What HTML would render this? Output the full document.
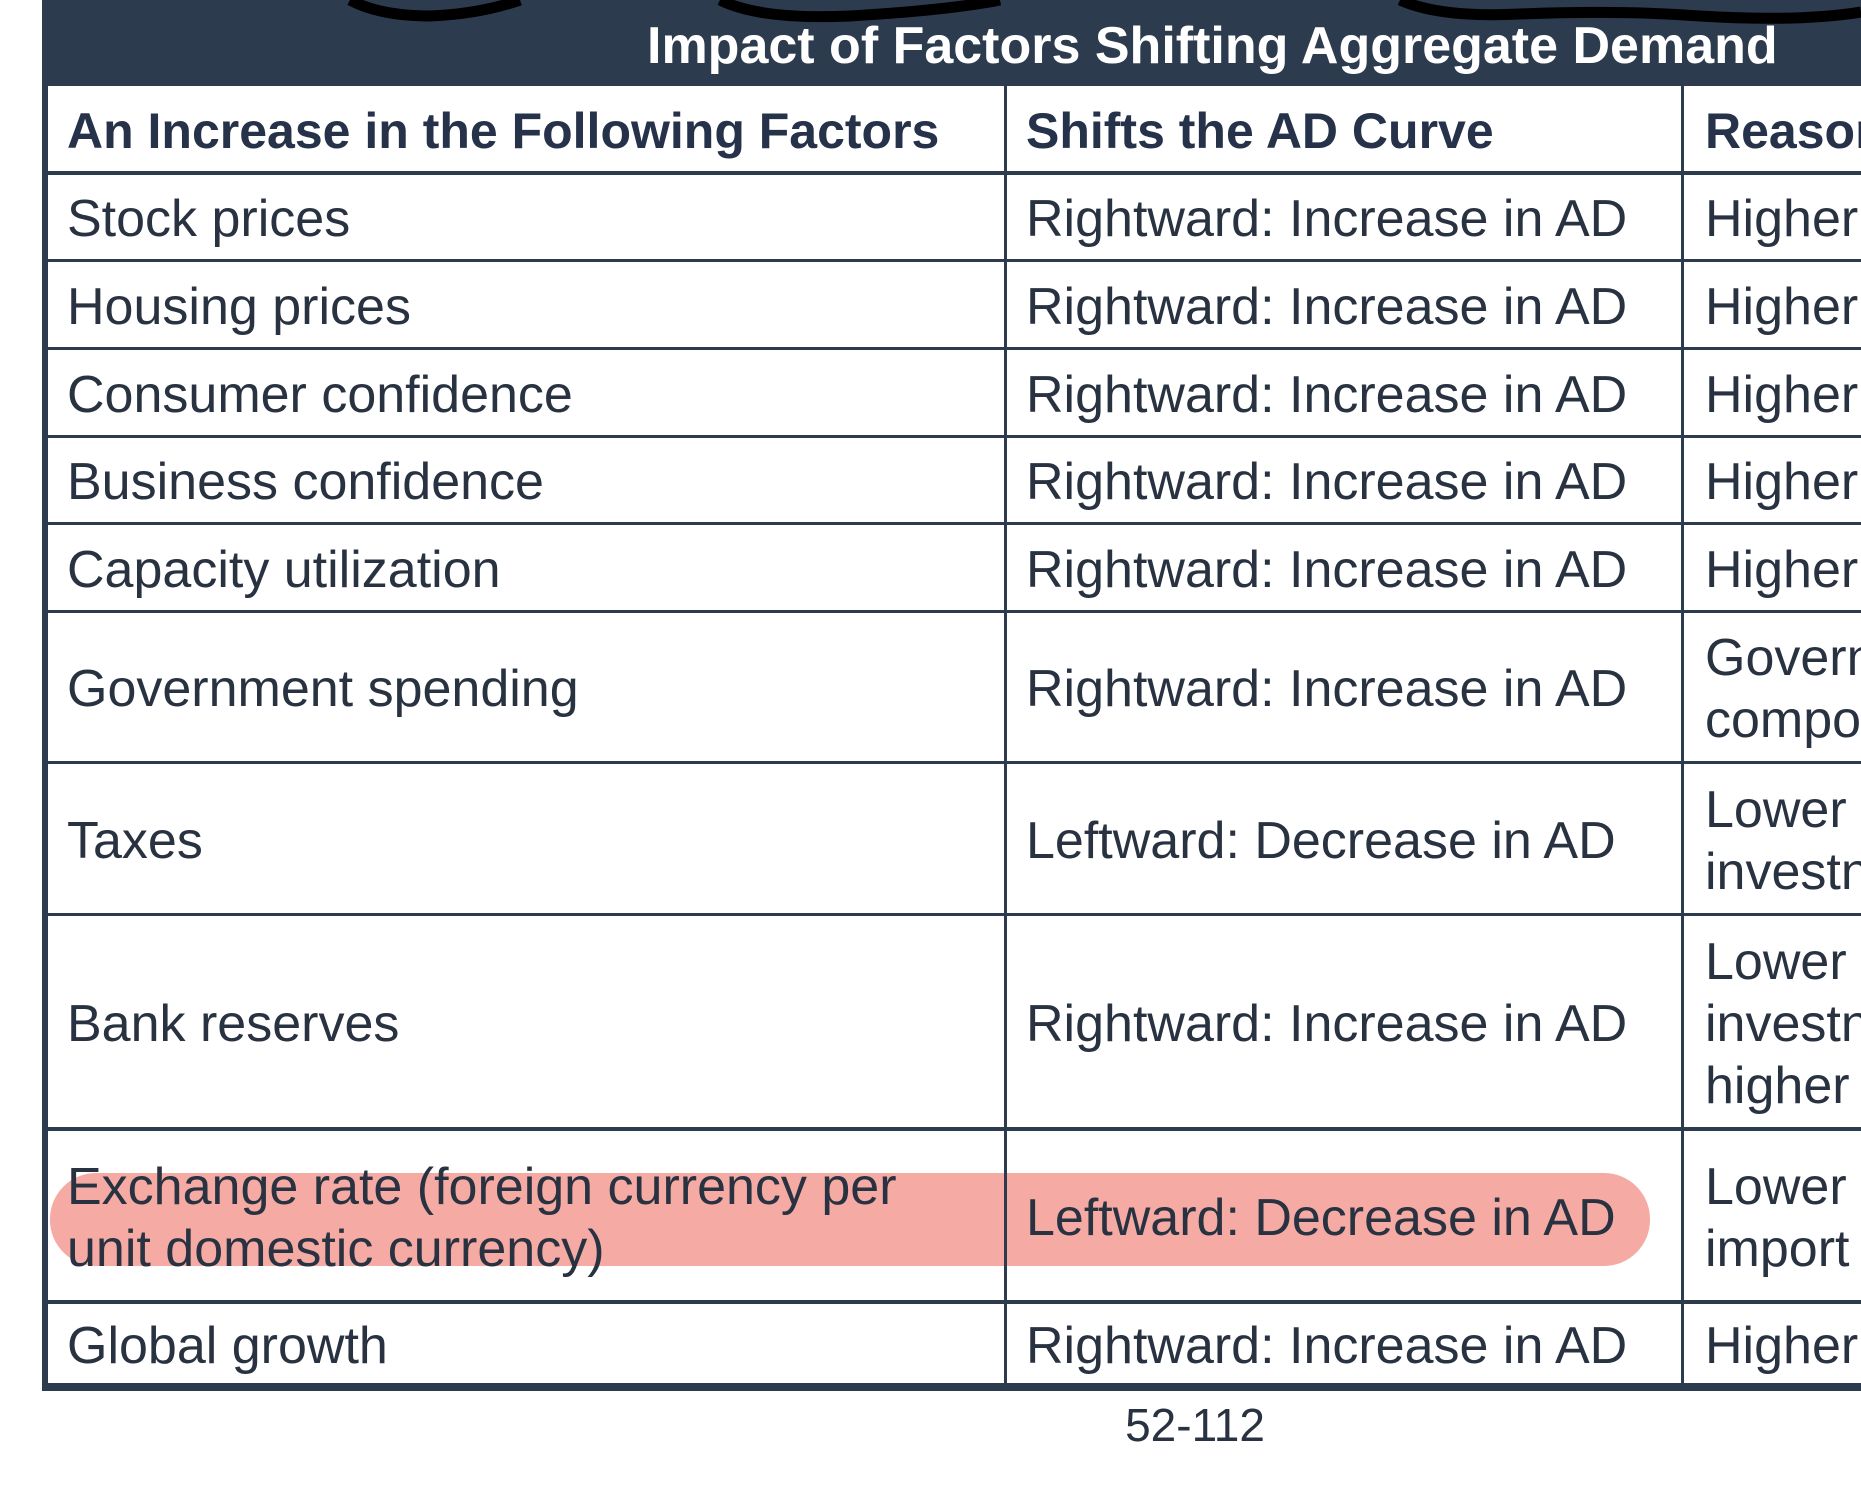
<!DOCTYPE html>
<html><head><meta charset="utf-8"><style>
html,body{margin:0;padding:0;background:#fff;}
body{width:1861px;height:1486px;position:relative;overflow:hidden;font-family:"Liberation Sans","DejaVu Sans",sans-serif;color:#283240;}
.band{position:absolute;left:42px;top:0;width:1819px;height:86px;background:#2d3b4f;}
.title{position:absolute;left:647px;width:1000px;text-align:center;top:16px;font-weight:bold;font-size:52px;color:#fff;white-space:nowrap;}
.hl{position:absolute;background:#2d3b4f;}
.t{position:absolute;font-size:52px;white-space:nowrap;line-height:62px;display:flex;align-items:center;}
.h{font-weight:bold;font-size:50px;color:#26324a;}
.pink{position:absolute;left:50px;top:1173px;width:1600px;height:93px;background:#f5aaa4;border-radius:46px;}
</style></head><body>
<div class="band"></div>
<div class="title">Impact of Factors Shifting Aggregate Demand</div>
<svg style="position:absolute;left:0;top:0" width="1861" height="30">
<path d="M350,0 Q380,16 430,16 Q480,14 520,0 M720,0 Q760,20 850,16 Q950,10 1000,0 M1400,0 Q1440,18 1520,14 Q1620,10 1700,16 Q1800,22 1861,12" stroke="#000" stroke-width="11" fill="none"/>
</svg>
<div class="pink"></div>
<div class="hl" style="left:42px;top:84px;width:6px;height:1306px"></div>
<div class="hl" style="left:1004px;top:84px;width:3px;height:1306px"></div>
<div class="hl" style="left:1681px;top:84px;width:3px;height:1306px"></div>
<div class="hl" style="left:42px;top:171px;width:1819px;height:4px"></div>
<div class="hl" style="left:42px;top:259px;width:1819px;height:3px"></div>
<div class="hl" style="left:42px;top:347px;width:1819px;height:3px"></div>
<div class="hl" style="left:42px;top:435px;width:1819px;height:3px"></div>
<div class="hl" style="left:42px;top:522px;width:1819px;height:3px"></div>
<div class="hl" style="left:42px;top:610px;width:1819px;height:3px"></div>
<div class="hl" style="left:42px;top:761px;width:1819px;height:3px"></div>
<div class="hl" style="left:42px;top:913px;width:1819px;height:3px"></div>
<div class="hl" style="left:42px;top:1127px;width:1819px;height:4px"></div>
<div class="hl" style="left:42px;top:1300px;width:1819px;height:4px"></div>
<div class="hl" style="left:42px;top:1383px;width:1819px;height:8px"></div>
<div class="t h" style="left:67px;top:88px;height:86px">An Increase in the Following Factors</div>
<div class="t h" style="left:1026px;top:88px;height:86px">Shifts the AD Curve</div>
<div class="t h" style="left:1705px;top:88px;height:86px">Reasons</div>
<div class="t" style="left:67px;top:176px;height:86px">Stock prices</div>
<div class="t" style="left:1026px;top:176px;height:86px">Rightward: Increase in AD</div>
<div class="t" style="left:1705px;top:176px;height:86px">Higher</div>
<div class="t" style="left:67px;top:263px;height:87px">Housing prices</div>
<div class="t" style="left:1026px;top:263px;height:87px">Rightward: Increase in AD</div>
<div class="t" style="left:1705px;top:263px;height:87px">Higher</div>
<div class="t" style="left:67px;top:351px;height:87px">Consumer confidence</div>
<div class="t" style="left:1026px;top:351px;height:87px">Rightward: Increase in AD</div>
<div class="t" style="left:1705px;top:351px;height:87px">Higher</div>
<div class="t" style="left:67px;top:439px;height:86px">Business confidence</div>
<div class="t" style="left:1026px;top:439px;height:86px">Rightward: Increase in AD</div>
<div class="t" style="left:1705px;top:439px;height:86px">Higher</div>
<div class="t" style="left:67px;top:526px;height:87px">Capacity utilization</div>
<div class="t" style="left:1026px;top:526px;height:87px">Rightward: Increase in AD</div>
<div class="t" style="left:1705px;top:526px;height:87px">Higher</div>
<div class="t" style="left:67px;top:614px;height:150px">Government spending</div>
<div class="t" style="left:1026px;top:614px;height:150px">Rightward: Increase in AD</div>
<div class="t" style="left:1705px;top:614px;height:150px">Govern<br>compo</div>
<div class="t" style="left:67px;top:765px;height:151px">Taxes</div>
<div class="t" style="left:1026px;top:765px;height:151px">Leftward: Decrease in AD</div>
<div class="t" style="left:1705px;top:765px;height:151px">Lower<br>investn</div>
<div class="t" style="left:67px;top:917px;height:213px">Bank reserves</div>
<div class="t" style="left:1026px;top:917px;height:213px">Rightward: Increase in AD</div>
<div class="t" style="left:1705px;top:917px;height:213px">Lower<br>investn<br>higher</div>
<div class="t" style="left:67px;top:1132px;height:171px">Exchange rate (foreign currency per<br>unit domestic currency)</div>
<div class="t" style="left:1026px;top:1132px;height:171px">Leftward: Decrease in AD</div>
<div class="t" style="left:1705px;top:1132px;height:171px">Lower<br>import</div>
<div class="t" style="left:67px;top:1305px;height:82px">Global growth</div>
<div class="t" style="left:1026px;top:1305px;height:82px">Rightward: Increase in AD</div>
<div class="t" style="left:1705px;top:1305px;height:82px">Higher</div>
<div class="t" style="left:1095px;top:1394px;height:62px;width:200px;justify-content:center;font-size:46px">52-112</div>
</body></html>
